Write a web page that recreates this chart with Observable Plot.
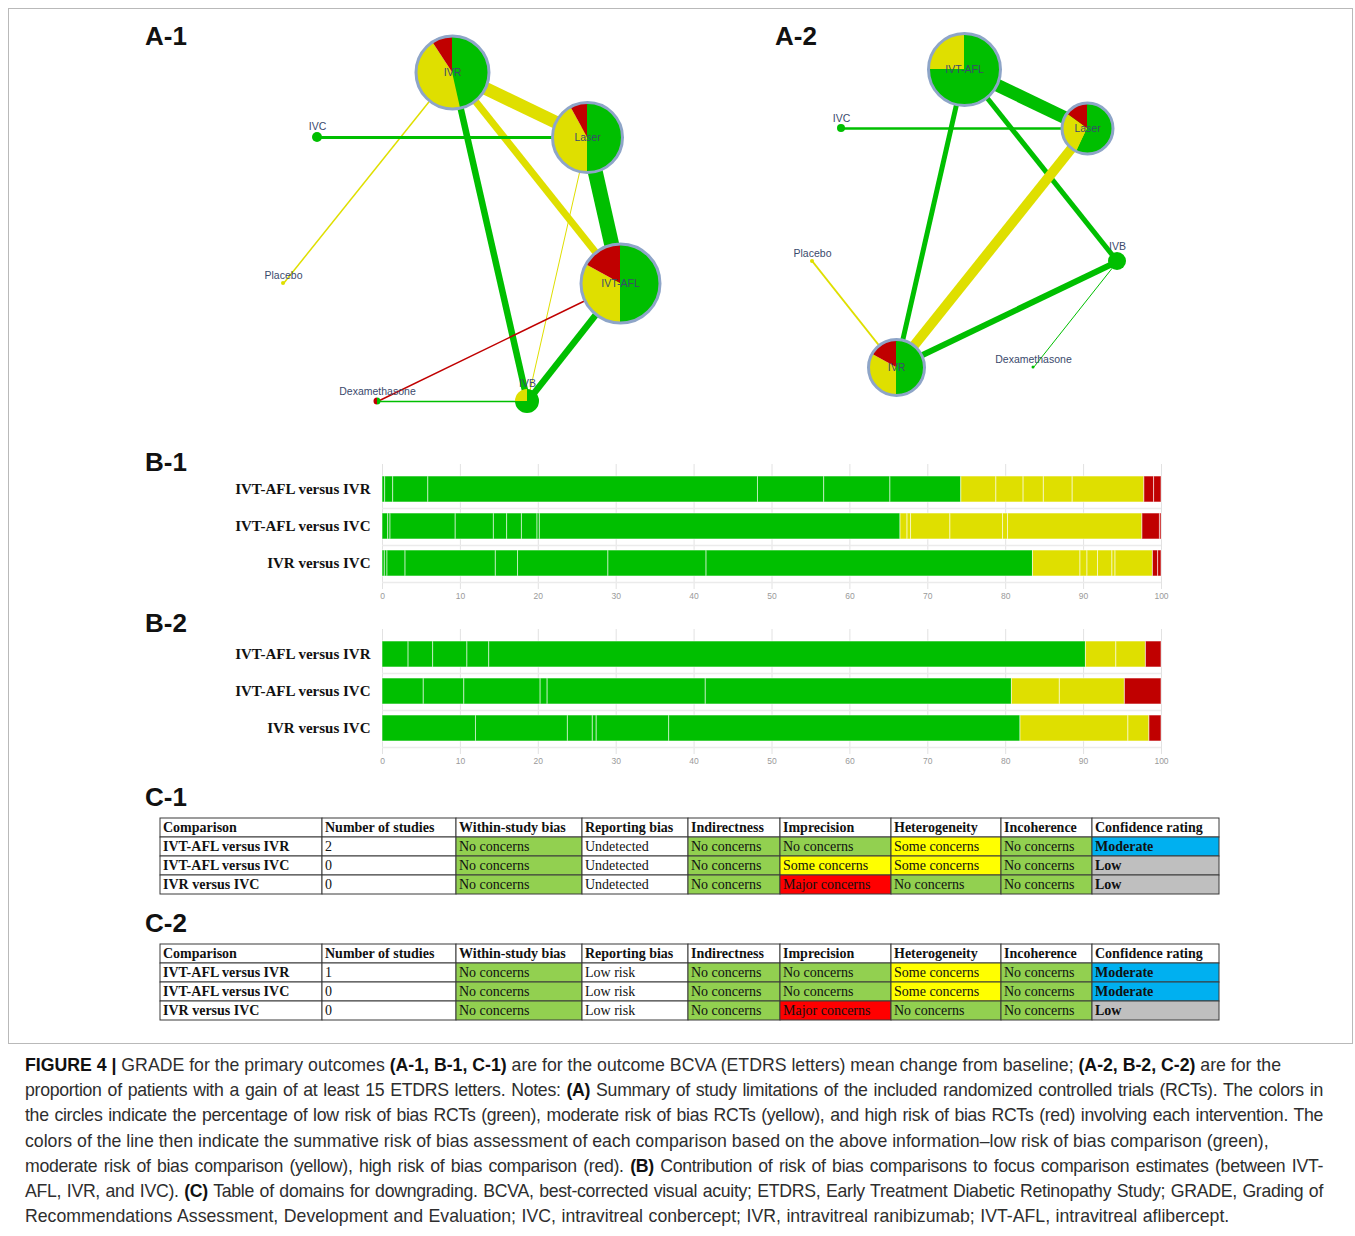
<!DOCTYPE html>
<html>
<head>
<meta charset="utf-8">
<script src="https://cdn.jsdelivr.net/npm/d3@7"></script>
<script src="https://cdn.jsdelivr.net/npm/@observablehq/plot@0.6"></script>
<style>
  body { margin: 0; background: #fff; }
  #page { position: relative; width: 1355px; height: 1236px; overflow: hidden; background: #fff;
          font-family: "Liberation Sans", Arial, sans-serif; }
  .frame { position: absolute; left: 8px; top: 8px; width: 1345px; height: 1036px;
           border: 1px solid #b9b9b9; box-sizing: border-box; }
  .panel-label { position: absolute; font: bold 26px/26px "Liberation Sans", Arial, sans-serif; color: #111; }
  .slot { position: absolute; }
  .slot svg { display: block; max-width: none !important; }
  #caption { position: absolute; left: 25px; top: 1053px; width: 1298px; font-size: 17.7px;
             line-height: 25.2px; color: #2e2e2e; font-family: "Liberation Sans", Arial, sans-serif; }
  #caption div { white-space: nowrap; }
  #caption .j { text-align: justify; text-align-last: justify; letter-spacing: -0.3px; }
  #caption .w { word-spacing: 0.6px; }
  #caption b { color: #111; }
</style>
</head>
<body>
<div id="page">
  <div class="frame"></div>
  <div class="panel-label" style="left:145px;top:23px">A-1</div>
  <div class="panel-label" style="left:775px;top:23px">A-2</div>
  <div class="panel-label" style="left:145px;top:449px">B-1</div>
  <div class="panel-label" style="left:145px;top:610px">B-2</div>
  <div class="panel-label" style="left:145px;top:784px">C-1</div>
  <div class="panel-label" style="left:145px;top:910px">C-2</div>

  <div class="slot" id="a1" style="left:250px;top:20px"></div>
  <div class="slot" id="a2" style="left:760px;top:20px"></div>
  <div class="slot" id="b1" style="left:0px;top:460px"></div>
  <div class="slot" id="b2" style="left:0px;top:625px"></div>
  <div class="slot" id="c1" style="left:159px;top:816px"></div>
  <div class="slot" id="c2" style="left:159px;top:942px"></div>

  <div id="caption">
    <div><b>FIGURE 4 |</b> GRADE for the primary outcomes <b>(A-1, B-1, C-1)</b> are for the outcome BCVA (ETDRS letters) mean change from baseline; <b>(A-2, B-2, C-2)</b> are for the</div>
    <div class="j">proportion of patients with a gain of at least 15 ETDRS letters. Notes: <b>(A)</b> Summary of study limitations of the included randomized controlled trials (RCTs). The colors in</div>
    <div class="j">the circles indicate the percentage of low risk of bias RCTs (green), moderate risk of bias RCTs (yellow), and high risk of bias RCTs (red) involving each intervention. The</div>
    <div>colors of the line then indicate the summative risk of bias assessment of each comparison based on the above information–low risk of bias comparison (green),</div>
    <div class="j">moderate risk of bias comparison (yellow), high risk of bias comparison (red). <b>(B)</b> Contribution of risk of bias comparisons to focus comparison estimates (between IVT-</div>
    <div class="j">AFL, IVR, and IVC). <b>(C)</b> Table of domains for downgrading. BCVA, best-corrected visual acuity; ETDRS, Early Treatment Diabetic Retinopathy Study; GRADE, Grading of</div>
    <div class="w">Recommendations Assessment, Development and Evaluation; IVC, intravitreal conbercept; IVR, intravitreal ranibizumab; IVT-AFL, intravitreal aflibercept.</div>
  </div>
</div>

<script>
// ---------- Risk-of-bias palette ----------
const riskLevels = ["low", "moderate", "high"];
const riskColors = ["#00bf00", "#dfdf00", "#c00000"];

// ---------- A-1: network, BCVA mean change (layout units) ----------
const a1Nodes    = ["IVR", "Laser", "IVT-AFL", "IVC", "Placebo", "Dexamethasone", "IVB"];
const a1X        = [202, 337, 370, 67, 33, 127, 277];
const a1Y        = [52, 117, 263, 117, 263, 381, 381];
const a1Size     = [36.5, 35, 39.5, 5, 2, 3.5, 12];
const a1Low      = [46.5, 50, 50, 100, 0, 50, 75];
const a1Moderate = [44.3, 42, 33, 0, 100, 0, 25];
const a1High     = [9.2, 8, 17, 0, 0, 50, 0];
const a1From     = ["IVR", "IVR", "IVR", "IVR", "IVC", "Laser", "Laser", "IVT-AFL", "IVT-AFL", "Dexamethasone"];
const a1To       = ["Laser", "IVT-AFL", "IVB", "Placebo", "Laser", "IVT-AFL", "IVB", "Dexamethasone", "IVB", "IVB"];
const a1Weight   = [13, 7, 6.5, 1.5, 3, 15, 1, 1.4, 6.5, 1.5];
const a1EdgeRisk = ["moderate", "moderate", "low", "moderate", "low", "low", "moderate", "high", "low", "low"];

// ---------- A-2: network, gain of at least 15 letters ----------
const a2Nodes    = ["IVT-AFL", "Laser", "IVC", "Placebo", "IVB", "Dexamethasone", "IVR"];
const a2X        = [204, 327, 81, 52, 357, 273, 136];
const a2Y        = [49, 108, 108, 241, 241, 347, 347];
const a2Size     = [36, 25.5, 4, 2, 9, 1.5, 28];
const a2Low      = [75, 57, 100, 0, 100, 100, 50];
const a2Moderate = [25, 28, 0, 100, 0, 0, 33];
const a2High     = [0, 15, 0, 0, 0, 0, 17];
const a2From     = ["IVT-AFL", "IVT-AFL", "IVT-AFL", "IVC", "Laser", "IVR", "IVR", "IVB"];
const a2To       = ["Laser", "IVR", "IVB", "Laser", "IVR", "IVB", "Placebo", "Dexamethasone"];
const a2Weight   = [13, 5, 5, 2.5, 10, 6, 2, 1];
const a2EdgeRisk = ["low", "low", "low", "low", "moderate", "low", "moderate", "low"];

// ---------- B: contribution (%) of each direct comparison, in stacking order ----------
const bComparisons = ["IVT-AFL versus IVR", "IVT-AFL versus IVC", "IVR versus IVC"];
const b1Low = [
  [0.34, 1.03, 4.51, 42.32, 8.5, 8.5, 9.1],
  [0.73, 0.3, 8.37, 4.9, 1.7, 1.9, 2.0, 0.3, 46.3],
  [0.3, 0.34, 2.32, 11.59, 2.85, 11.6, 12.6, 41.9]
];
const b1Moderate = [
  [4.5, 3.5, 2.6, 3.7, 9.2],
  [0.9, 0.45, 5.05, 6.76, 0.64, 17.25],
  [6.1, 0.9, 1.35, 1.85, 0.4, 4.8]
];
const b1High = [
  [1.25, 0.95],
  [2.25, 0.2],
  [0.67, 0.43]
];
const b2Low = [
  [3.35, 3.15, 4.4, 2.8, 76.6],
  [5.3, 5.2, 9.8, 0.9, 20.3, 39.3],
  [12.0, 11.8, 3.2, 0.5, 9.3, 45.1]
];
const b2Moderate = [
  [3.9, 3.8],
  [6.15, 8.35],
  [13.85, 2.7]
];
const b2High = [
  [2.0],
  [4.7],
  [1.55]
];
const bTicks = [0, 10, 20, 30, 40, 50, 60, 70, 80, 90, 100];

// ---------- C: GRADE domain tables ----------
const cHeader = ["Comparison", "Number of studies", "Within-study bias", "Reporting bias", "Indirectness",
                 "Imprecision", "Heterogeneity", "Incoherence", "Confidence rating"];
const c1Rows = [
  ["IVT-AFL versus IVR", "2", "No concerns", "Undetected", "No concerns", "No concerns", "Some concerns", "No concerns", "Moderate"],
  ["IVT-AFL versus IVC", "0", "No concerns", "Undetected", "No concerns", "Some concerns", "Some concerns", "No concerns", "Low"],
  ["IVR versus IVC", "0", "No concerns", "Undetected", "No concerns", "Major concerns", "No concerns", "No concerns", "Low"]
];
const c2Rows = [
  ["IVT-AFL versus IVR", "1", "No concerns", "Low risk", "No concerns", "No concerns", "Some concerns", "No concerns", "Moderate"],
  ["IVT-AFL versus IVC", "0", "No concerns", "Low risk", "No concerns", "No concerns", "Some concerns", "No concerns", "Moderate"],
  ["IVR versus IVC", "0", "No concerns", "Low risk", "No concerns", "Major concerns", "No concerns", "No concerns", "Low"]
];
const judgementLevels = ["No concerns", "Some concerns", "Major concerns", "Moderate", "Low"];
const judgementColors = ["#92d050", "#ffff00", "#ff0000", "#00b0f0", "#bfbfbf"];

// table column widths (px)
const tableColumnWidths = [162, 134, 126, 106, 92, 111, 110, 91, 127];

// ---------- drawing helpers ----------
const sansFont = "'Liberation Sans', Arial, Helvetica, sans-serif";
const serifFont = "'Liberation Serif', 'Times New Roman', Times, serif";

// pie wedges for each treatment node, drawn through the plot's x/y scales
function pieWedges(nodes) {
  return (index, scales) => {
    const g = d3.create("svg:g");
    const arc = d3.arc().innerRadius(0);
    for (const n of nodes) {
      const parts = riskLevels.map(level => [level, n[level]]).filter(p => p[1] > 0);
      const total = d3.sum(parts, p => p[1]);
      let a0 = 0;
      for (const [level, v] of parts) {
        const a1 = a0 + (v / total) * 2 * Math.PI;
        g.append("path")
          .attr("transform", `translate(${scales.x(n.x)},${scales.y(n.y)})`)
          .attr("d", arc({outerRadius: n.r, startAngle: a0, endAngle: a1}))
          .attr("fill", scales.color(level));
        a0 = a1;
      }
    }
    return g.node();
  };
}

function networkPlot(names, xs, ys, sizes, low, moderate, high, from, to, weight, edgeRisk) {
  const nodes = names.map((name, i) => ({
    name, x: xs[i], y: ys[i], r: sizes[i], low: low[i], moderate: moderate[i], high: high[i]
  }));
  const byName = new Map(nodes.map(d => [d.name, d]));
  const edges = from.map((f, i) => ({a: byName.get(f), b: byName.get(to[i]), w: weight[i], risk: edgeRisk[i]}));
  const large = nodes.filter(d => d.r >= 20);
  const small = nodes.filter(d => d.r < 20);
  return Plot.plot({
    width: 460, height: 400, margin: 0,
    x: {domain: [0, 460], axis: null},
    y: {domain: [0, 400], reverse: true, axis: null},
    r: {type: "identity"},
    color: {domain: riskLevels, range: riskColors},
    style: {fontFamily: sansFont, background: "transparent", overflow: "visible"},
    marks: [
      Plot.link(edges, {
        x1: d => d.a.x, y1: d => d.a.y, x2: d => d.b.x, y2: d => d.b.y,
        stroke: "risk", strokeWidth: "w", strokeLinecap: "butt"
      }),
      pieWedges(nodes),
      Plot.dot(large, {x: "x", y: "y", r: "r", fill: "none", stroke: "#8ea5c8", strokeWidth: 3}),
      Plot.text(large, {x: "x", y: "y", text: "name", fontSize: 10.5, fill: "#3a4a6c"}),
      Plot.text(small, {x: "x", y: d => d.y - d.r - 6, text: "name", fontSize: 10.5, fill: "#3a4a6c"})
    ]
  });
}

function contributionPlot(rows, low, moderate, high) {
  const segments = [];
  rows.forEach((row, i) => {
    low[i].forEach(v => segments.push({row, risk: "low", share: v}));
    moderate[i].forEach(v => segments.push({row, risk: "moderate", share: v}));
    high[i].forEach(v => segments.push({row, risk: "high", share: v}));
  });
  return Plot.plot({
    width: 1200, height: 145,
    marginLeft: 382, marginRight: 39, marginTop: 4, marginBottom: 16,
    x: {domain: [0, 100], label: null},
    y: {domain: rows, padding: 0.29, label: null},
    color: {domain: riskLevels, range: riskColors},
    style: {fontFamily: sansFont, background: "transparent", overflow: "visible"},
    marks: [
      Plot.gridX(bTicks, {stroke: "#e2e2e2", strokeOpacity: 1}),
      Plot.ruleY(rows, {dy: 19, stroke: "#ebebeb", strokeWidth: 1.5}),
      Plot.barX(segments, {x: "share", y: "row", fill: "risk", stroke: "#ffffff", strokeOpacity: 0.55, strokeWidth: 1}),
      Plot.axisX(bTicks, {tickSize: 0, tickPadding: 3, fontSize: 8.5, fill: "#9a9a9a", label: null}),
      Plot.axisY({tickSize: 0, tickPadding: 12, fontSize: 15, fontWeight: "bold", fontFamily: serifFont, fill: "#111", label: null})
    ]
  });
}

function gradeTable(header, rows) {
  const edges = [0, ...d3.cumsum(tableColumnWidths)];
  const keys = ["header", ...rows.map((r, i) => "row" + i)];
  const cells = [];
  header.forEach((t, j) => cells.push({key: "header", j, t, bold: true}));
  rows.forEach((r, i) => r.forEach((t, j) => cells.push({key: "row" + i, j, t, bold: j === 0 || j === header.length - 1})));
  const textOptions = {
    x: d => edges[d.j] + 2.5, y: "key", text: "t", textAnchor: "start",
    fontFamily: serifFont, fontSize: 14, fill: "#111"
  };
  return Plot.plot({
    width: 1061, height: 80, marginLeft: 1, marginRight: 1, marginTop: 1, marginBottom: 1,
    x: {domain: [0, edges[edges.length - 1]], axis: null},
    y: {domain: keys, padding: 0, axis: null},
    color: {domain: judgementLevels, range: judgementColors, unknown: "#ffffff"},
    style: {background: "transparent", overflow: "visible"},
    marks: [
      Plot.barX(cells, {x1: d => edges[d.j], x2: d => edges[d.j + 1], y: "key", fill: "t", stroke: "#3a3a3a", strokeWidth: 1}),
      Plot.text(cells.filter(d => d.bold), {...textOptions, fontWeight: "bold"}),
      Plot.text(cells.filter(d => !d.bold), textOptions)
    ]
  });
}

document.getElementById("a1").append(networkPlot(a1Nodes, a1X, a1Y, a1Size, a1Low, a1Moderate, a1High, a1From, a1To, a1Weight, a1EdgeRisk));
document.getElementById("a2").append(networkPlot(a2Nodes, a2X, a2Y, a2Size, a2Low, a2Moderate, a2High, a2From, a2To, a2Weight, a2EdgeRisk));
document.getElementById("b1").append(contributionPlot(bComparisons, b1Low, b1Moderate, b1High));
document.getElementById("b2").append(contributionPlot(bComparisons, b2Low, b2Moderate, b2High));
document.getElementById("c1").append(gradeTable(cHeader, c1Rows));
document.getElementById("c2").append(gradeTable(cHeader, c2Rows));
</script>
</body>
</html>
